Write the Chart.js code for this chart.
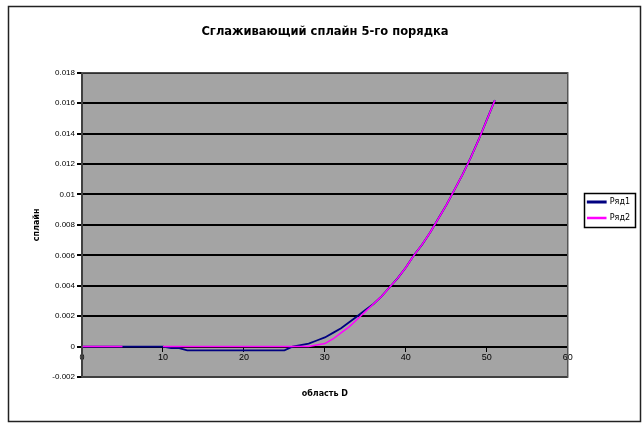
<!DOCTYPE html>
<html>
<head>
<meta charset="utf-8">
<script src="https://cdn.jsdelivr.net/npm/chart.js@4.4.0/dist/chart.umd.min.js"></script>
<style>
  html, body { margin: 0; padding: 0; background: #fff; }
  canvas { display: block; }
</style>
</head>
<body>
<canvas id="myChart" width="642" height="426"></canvas>
<script>
// values
const xValues = [0, 1, 2, 3, 4, 5, 6, 7, 8, 9, 10, 11, 12, 13, 14, 15, 16, 17, 18, 19, 20,
  21, 22, 23, 24, 25, 26, 27, 28, 29, 30, 31, 32, 33, 34, 35, 36, 37, 38, 39, 40,
  41, 42, 43, 44, 45, 46, 47, 48, 49, 50, 51];
const ryad1 = [0, 0, 0, 0, 0, 0, 0, 0, 0, 0, 0,
  -0.0001, -0.0001,
  -0.00025, -0.00025, -0.00025, -0.00025, -0.00025, -0.00025, -0.00025, -0.00025, -0.00025, -0.00025, -0.00025, -0.00025, -0.00025,
  0, 0.0001, 0.0002, 0.0004, 0.0006, 0.0009, 0.0012, 0.0016, 0.002, 0.0024, 0.0028, 0.0033, 0.0039,
  0.0045, 0.0052, 0.006, 0.0067, 0.0075, 0.0084, 0.0093, 0.0103, 0.0113, 0.0124, 0.0136, 0.0149, 0.0162];
const ryad2 = [0, 0, 0, 0, 0, 0, null, null, null, null,
  0, 0, 0, 0, 0, 0, 0, 0, 0, 0, 0, 0, 0, 0, 0, 0, 0, 0, 0,
  0.0001, 0.0002, 0.0005, 0.0009, 0.0013, 0.0018, 0.0023, 0.0028, 0.0033, 0.0039,
  0.0045, 0.0052, 0.006, 0.0067, 0.0075, 0.0084, 0.0093, 0.0103, 0.0113, 0.0124, 0.0136, 0.0149, 0.0162];
const seriesNames = ['Ряд1', 'Ряд2'];
const xTicks = [0, 10, 20, 30, 40, 50, 60];
const yTicks = [-0.002, 0, 0.002, 0.004, 0.006, 0.008, 0.01, 0.012, 0.014, 0.016, 0.018];

const FONT = 'Arial, "Liberation Sans", sans-serif';
const WIDE = '"DejaVu Sans", Verdana, sans-serif';

function toPoints(ys) {
  return xValues.map((x, i) => ({ x: x, y: ys[i] }));
}

// white page, outer frame, grey plot area, legend box
const framePlugin = {
  id: 'frame',
  beforeDraw(chart) {
    const c = chart.ctx;
    const a = chart.chartArea;
    c.save();
    c.fillStyle = '#fff';
    c.fillRect(0, 0, chart.width, chart.height);
    c.strokeStyle = '#222';
    c.lineWidth = 1.5;
    c.strokeRect(8.5, 6.5, 632, 415);
    c.fillStyle = '#a4a4a4';
    c.fillRect(a.left, a.top, a.right - a.left, a.bottom - a.top);
    c.restore();
  },
  afterDraw(chart) {
    const c = chart.ctx;
    const a = chart.chartArea;
    c.save();
    c.strokeStyle = '#555';
    c.lineWidth = 1.5;
    c.strokeRect(a.left, a.top, a.right - a.left, a.bottom - a.top);
    const boxes = chart.legend.legendHitBoxes;
    if (boxes && boxes.length) {
      let x1 = Infinity, y1 = Infinity, x2 = -Infinity, y2 = -Infinity;
      boxes.forEach(b => {
        x1 = Math.min(x1, b.left); y1 = Math.min(y1, b.top);
        x2 = Math.max(x2, b.left + b.width); y2 = Math.max(y2, b.top + b.height);
      });
      c.strokeStyle = '#000';
      c.lineWidth = 1.5;
      c.strokeRect(Math.round(x1 - 4) + 0.5, Math.round(y1 - 5) + 0.5, Math.round(x2 - x1 + 9), Math.round(y2 - y1 + 10));
    }
    c.restore();
  }
};

const ctx = document.getElementById('myChart').getContext('2d');
const myChart = new Chart(ctx, {
  type: 'line',
  data: {
    datasets: [{
      label: seriesNames[0],
      data: toPoints(ryad1),
      borderColor: '#000080',
      backgroundColor: '#000080',
      borderWidth: 1.8,
      pointRadius: 0,
      tension: 0,
      order: 1
    }, {
      label: seriesNames[1],
      data: toPoints(ryad2),
      borderColor: '#ff00ff',
      backgroundColor: '#ff00ff',
      borderWidth: 1.5,
      pointRadius: 0,
      tension: 0,
      spanGaps: false,
      order: 0
    }]
  },
  options: {
    responsive: false,
    animation: false,
    devicePixelRatio: 1,
    layout: { padding: { left: 10, right: 2, top: 0, bottom: 6 } },
    plugins: {
      title: {
        display: true,
        text: 'Сглаживающий сплайн 5-го порядка',
        color: '#000',
        font: { family: WIDE, size: 11.5, weight: 'bold' },
        padding: { top: 25, bottom: 34 }
      },
      legend: {
        position: 'right',
        labels: {
          color: '#000',
          font: { family: WIDE, size: 8 },
          boxWidth: 18,
          boxHeight: 1,
          padding: 8,
          sort: (a, b) => a.datasetIndex - b.datasetIndex
        }
      },
      tooltip: { enabled: false }
    },
    scales: {
      x: {
        type: 'linear',
        min: 0,
        max: 60,
        position: { y: 0 },
        afterBuildTicks: s => { s.ticks = xTicks.map(v => ({ value: v })); },
        ticks: { color: '#000', font: { family: FONT, size: 9 }, padding: 2, maxRotation: 0 },
        grid: { drawOnChartArea: false, drawTicks: true, tickLength: 4, color: '#000', lineWidth: 1 },
        border: { color: '#000', width: 2 }
      },
      xb: {
        type: 'linear',
        min: 0,
        max: 60,
        position: 'bottom',
        ticks: { display: false },
        grid: { display: false },
        border: { display: false },
        title: {
          display: true,
          text: 'область D',
          color: '#000',
          font: { family: WIDE, size: 8, weight: 'bold' },
          padding: { top: 0, bottom: 21 }
        },
        afterFit: s => { s.height = 43; }
      },
      // empty gap between the plot and the legend
      gap: {
        type: 'linear',
        position: 'right',
        ticks: { display: false },
        grid: { display: false },
        border: { display: false },
        afterFit: s => { s.width = 12; }
      },
      y: {
        type: 'linear',
        min: -0.002,
        max: 0.018,
        afterBuildTicks: s => { s.ticks = yTicks.map(v => ({ value: v })); },
        ticks: {
          color: '#000',
          font: { family: FONT, size: 8 },
          padding: 2,
          callback: v => String(parseFloat(v.toFixed(3)))
        },
        grid: { color: '#000', lineWidth: 2, drawTicks: true, tickLength: 5 },
        border: { color: '#000', width: 2 },
        title: {
          display: true,
          text: 'сплайн',
          color: '#000',
          font: { family: WIDE, size: 8, weight: 'bold' },
          padding: { top: 22, bottom: 0 }
        },
        afterFit: s => { s.width = 72; }
      }
    }
  },
  plugins: [framePlugin]
});
</script>
</body>
</html>
